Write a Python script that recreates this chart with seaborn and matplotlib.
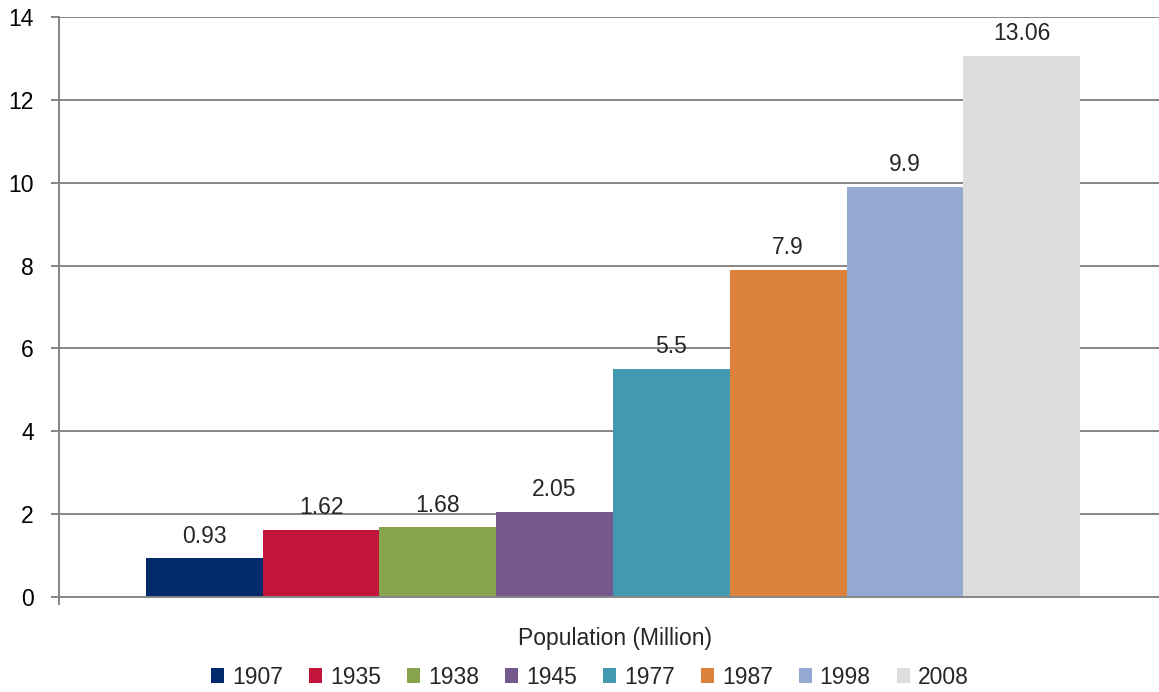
import matplotlib
matplotlib.use("Agg")
import matplotlib.pyplot as plt
import seaborn as sns
import pandas as pd
from matplotlib.patches import Patch

years = ["1907", "1935", "1938", "1945", "1977", "1987", "1998", "2008"]
population = [0.93, 1.62, 1.68, 2.05, 5.5, 7.9, 9.9, 13.06]
value_labels = ["0.93", "1.62", "1.68", "2.05", "5.5", "7.9", "9.9", "13.06"]
category = "Population (Million)"
colors = ["#002A6C", "#C3143B", "#87A44C", "#74588E", "#4299B1", "#DD823C", "#94AAD2", "#DDDDDD"]

sns.set_theme(style="white")
plt.rcParams["font.family"] = ["Liberation Sans", "DejaVu Sans"]

FS = 16.5
W, H = 1159, 692
df = pd.DataFrame({"cat": [category] * len(years), "year": years, "pop": population})

fig = plt.figure(figsize=(W / 100, H / 100), dpi=100)
# plot area runs slightly past the right edge of the canvas
ax = fig.add_axes([59 / W, 95 / H, 1108 / W, 580 / H])

sns.barplot(data=df, x="cat", y="pop", hue="year", palette=colors,
            width=0.843, saturation=1, ax=ax, legend=False, errorbar=None)
for p in ax.patches:
    p.set_edgecolor("none")

grid_c = "#868686"
ax.set_ylim(0, 14)
ax.set_xlim(-0.5, 0.5)
ax.set_yticks(range(0, 15, 2))
ax.yaxis.grid(True, color=grid_c, linewidth=1.4)
ax.set_axisbelow(True)
for s in ["top", "right"]:
    ax.spines[s].set_visible(False)
for s in ["left", "bottom"]:
    ax.spines[s].set_color(grid_c)
    ax.spines[s].set_linewidth(1.4)
ax.tick_params(axis="y", length=6, width=1.4, color=grid_c, labelsize=FS, pad=12, left=True,
               labelcolor="black")
ax.set_xticks([-0.5])
ax.set_xticklabels([""])
ax.tick_params(axis="x", length=6, width=1.4, color=grid_c, bottom=True)
ax.set_xlabel("")
ax.set_ylabel("")
fig.text(615 / W, 1 - 638 / H, category, ha="center", va="center", fontsize=FS)

bars = sorted(ax.patches, key=lambda p: p.get_x())
for p, lab in zip(bars, value_labels):
    ax.annotate(lab, (p.get_x() + p.get_width() / 2, p.get_height()),
                xytext=(0, 16), textcoords="offset points", ha="center", va="center", fontsize=FS)

handles = [Patch(facecolor=c, edgecolor="none") for c in colors]
fig.legend(handles, years, loc="center", bbox_to_anchor=(590 / W, 1 - 677 / H), ncol=8,
           frameon=False, fontsize=FS, handlelength=0.57, handleheight=0.6,
           handletextpad=0.35, columnspacing=1.13, borderpad=0, borderaxespad=0)

fig.savefig("out.png", dpi=100)
